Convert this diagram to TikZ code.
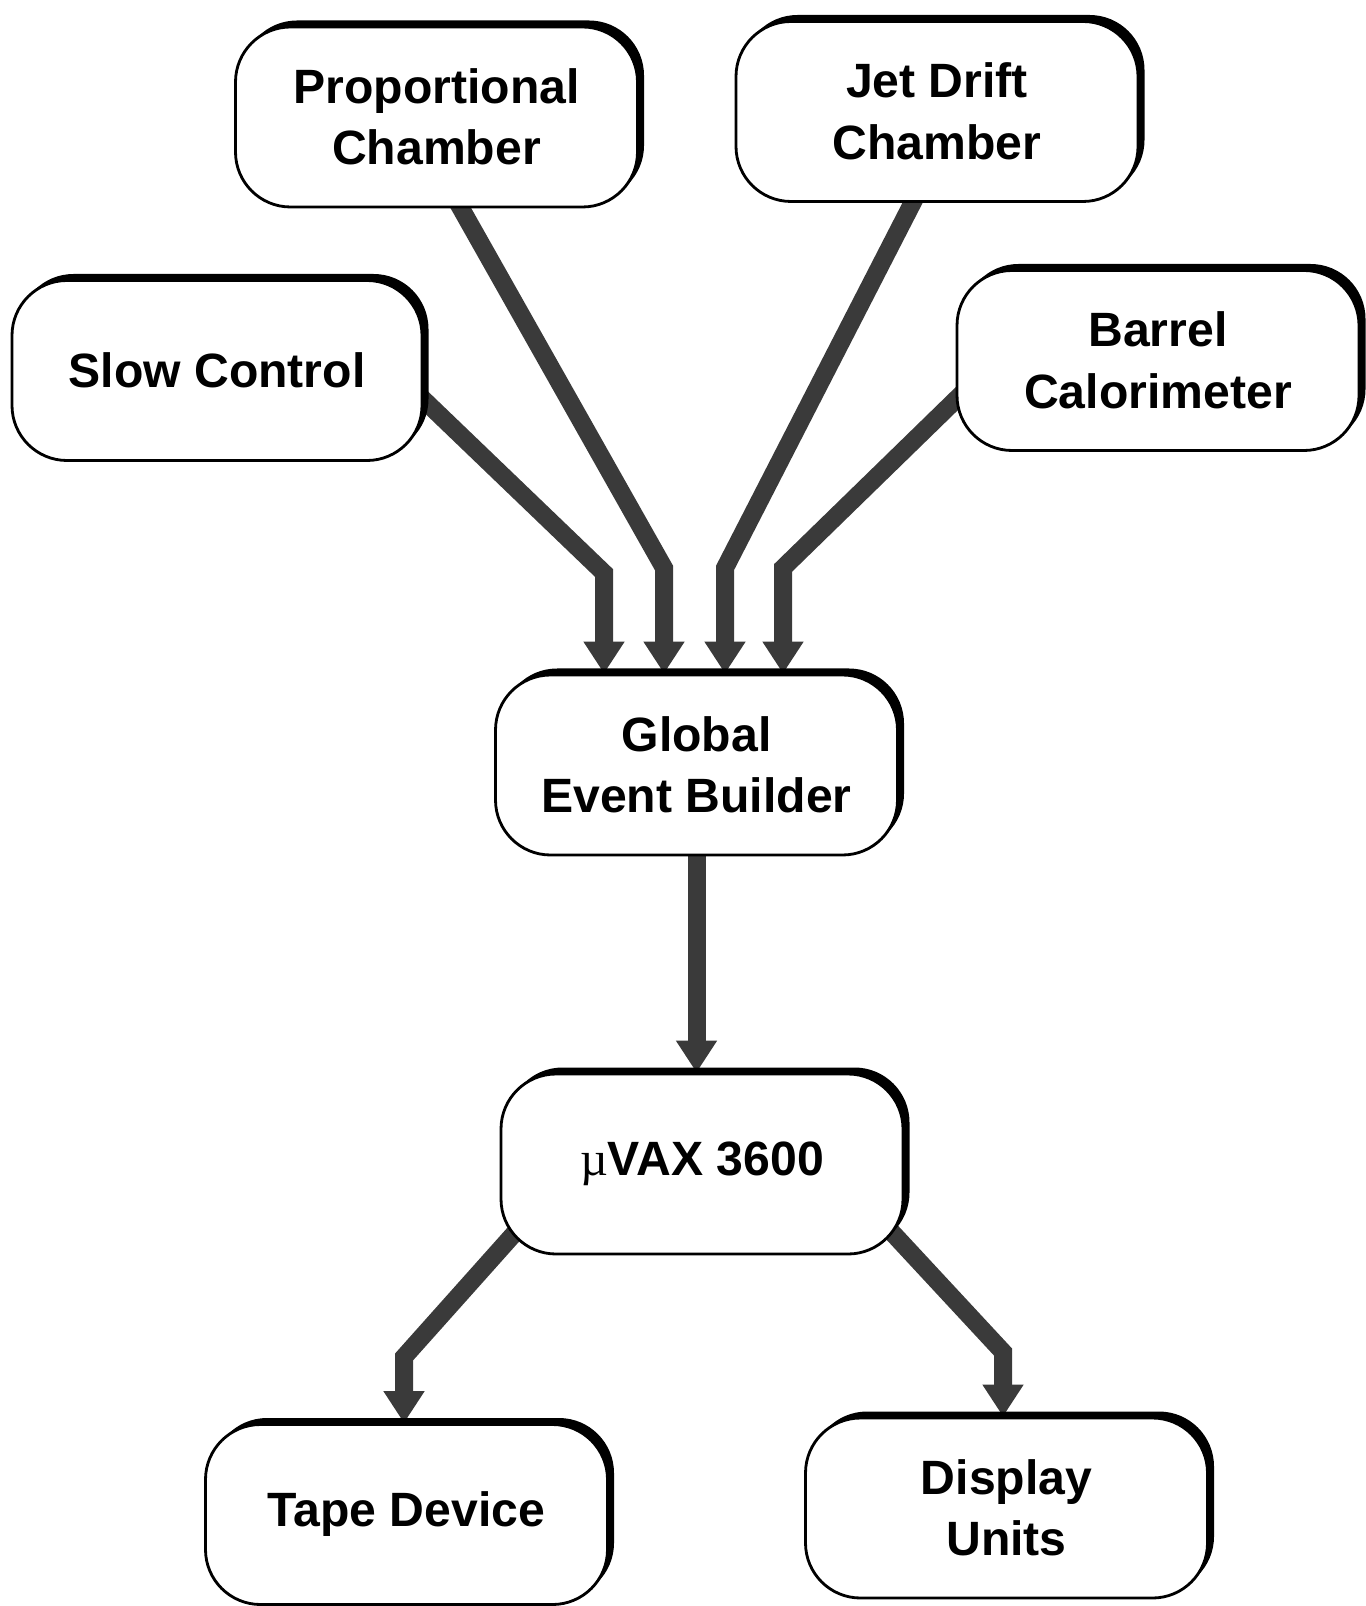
\documentclass[tikz,border=0pt]{standalone}
\usepackage{fontspec}
\setmainfont{Liberation Sans}
\newfontfamily\greekfont{Liberation Serif}
\usetikzlibrary{arrows.meta,shadows,backgrounds}
\definecolor{flowgray}{HTML}{3A3A3A}
\tikzset{
  unit/.style={draw=black, line width=0.8pt, rounded corners=5.5mm, fill=white,
    align=center, minimum width=4.02cm, minimum height=1.8cm,
    font=\bfseries\fontsize{13.7}{17.5}\selectfont,
    general shadow={fill=black, shadow xshift=0.65mm, shadow yshift=0.65mm}},
  flow/.style={draw=flowgray, line width=1.8mm, shorten <=-2.5mm,
    -{Triangle[width=3.9mm,length=3.2mm]}}
}
\begin{document}
\begin{tikzpicture}
  \useasboundingbox (0,0) rectangle (13.65,-16.06);
  % detector and control units
  \node[unit] (pc) at (4.365,-1.17) {Proportional\\Chamber};
  \node[unit] (jdc) at (9.37,-1.115) {Jet Drift\\Chamber};
  \node[unit, minimum width=4.1cm] (slow) at (2.17,-3.705) {Slow Control};
  \node[unit] (barrel) at (11.58,-3.605) {Barrel\\Calorimeter};
  % event building and storage
  \node[unit] (geb) at (6.965,-7.65) {Global\\Event Builder};
  \node[unit] (vax) at (7.02,-11.64) {{\greekfont\mdseries µ}VAX 3600};
  \node[unit] (tape) at (4.065,-15.145) {Tape Device};
  \node[unit] (disp) at (10.065,-15.08) {Display\\Units};
  % bends of the data lines
  \coordinate (k1) at (6.04,-5.73);
  \coordinate (k2) at (6.64,-5.68);
  \coordinate (k3) at (7.25,-5.68);
  \coordinate (k4) at (7.83,-5.68);
  \coordinate (k5) at (4.04,-13.57);
  \coordinate (k6) at (10.03,-13.52);
  \begin{pgfonlayer}{background}
    \draw[flow] (slow.-8) -- (k1) -- (k1 |- geb.north);
    \draw[flow] (pc.-75) -- (k2) -- (k2 |- geb.north);
    \draw[flow] (jdc.-105) -- (k3) -- (k3 |- geb.north);
    \draw[flow] (barrel.191) -- (k4) -- (k4 |- geb.north);
    \draw[flow] (geb.south) -- (geb.south |- vax.north);
    \draw[flow, shorten <=-5mm] (vax.203) -- (k5) -- (k5 |- tape.north);
    \draw[flow, shorten <=-5mm] (vax.-22) -- (k6) -- (k6 |- disp.north);
  \end{pgfonlayer}
\end{tikzpicture}
\end{document}
